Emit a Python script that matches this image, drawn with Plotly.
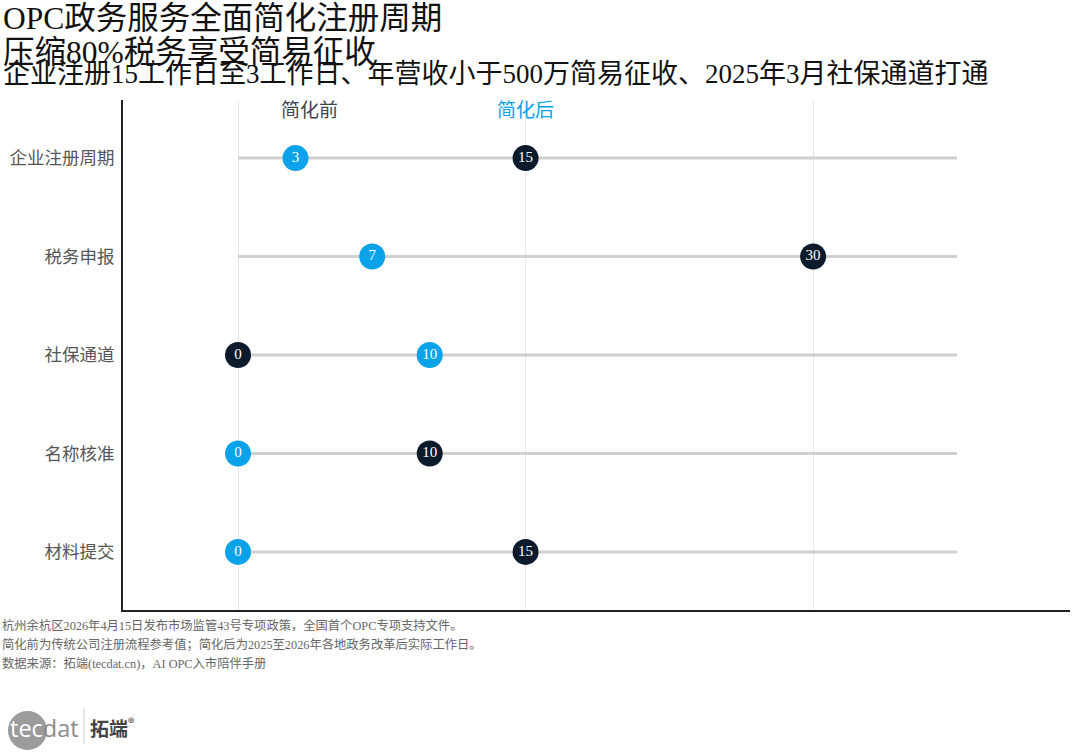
import plotly.graph_objects as go

# 数据
categories = ["企业注册周期", "税务申报", "社保通道", "名称核准", "材料提交"]
before_days = [15, 30, 0, 10, 15]   # 简化前
after_days = [3, 7, 10, 0, 0]       # 简化后
track_end = 37.5
grid_ticks = [0, 15, 30]

title_lines = ["OPC政务服务全面简化注册周期", "压缩80%税务享受简易征收"]
subtitle = "企业注册15工作日至3工作日、年营收小于500万简易征收、2025年3月社保通道打通"
notes = [
    "杭州余杭区2026年4月15日发布市场监管43号专项政策，全国首个OPC专项支持文件。",
    "简化前为传统公司注册流程参考值；简化后为2025至2026年各地政务改革后实际工作日。",
    "数据来源：拓端(tecdat.cn)，AI OPC入市陪伴手册",
]

DARK = "#0b1b2b"
BLUE = "#0aa2e8"
SERIF = "Liberation Serif, Noto Sans CJK SC, serif"
SANS = "Noto Sans CJK SC, sans-serif"

W, H = 1080, 756
ML, MR, MT, MB = 123, 10, 100, 146
PW, PH = W - ML - MR, H - MT - MB


def px_x(p):
    return (p - ML) / PW


def px_y(p):
    return (H - MB - p) / PH


fig = go.Figure()

# 灰色轨道线
tx, ty = [], []
for c in categories:
    tx += [0, track_end, None]
    ty += [c, c, None]
fig.add_trace(go.Scatter(x=tx, y=ty, mode="lines",
                         line=dict(color="#d0d0d0", width=3),
                         hoverinfo="skip", showlegend=False))

fig.add_trace(go.Scatter(
    x=before_days, y=categories, mode="markers+text", name="简化前",
    text=[str(v) for v in before_days], textposition="middle center",
    textfont=dict(color="white", size=15, family=SERIF),
    marker=dict(size=26, color=DARK), showlegend=False))

fig.add_trace(go.Scatter(
    x=after_days, y=categories, mode="markers+text", name="简化后",
    text=[str(v) for v in after_days], textposition="middle center",
    textfont=dict(color="white", size=15, family=SERIF),
    marker=dict(size=26, color=BLUE), showlegend=False))

annotations = []
# 标题
annotations.append(dict(text=title_lines[0], x=px_x(1), y=px_y(-1), xref="paper", yref="paper",
                        xanchor="left", yanchor="top", showarrow=False,
                        font=dict(size=31.5, color="#111", family=SERIF)))
annotations.append(dict(text=title_lines[1], x=px_x(1), y=px_y(33), xref="paper", yref="paper",
                        xanchor="left", yanchor="top", showarrow=False,
                        font=dict(size=31.5, color="#111", family=SERIF)))
annotations.append(dict(text=subtitle, x=px_x(1), y=px_y(57), xref="paper", yref="paper",
                        xanchor="left", yanchor="top", showarrow=False,
                        font=dict(size=27, color="#111", family=SERIF)))
# 图例文字
annotations.append(dict(text="简化前", x=3.75, y=px_y(108), xref="x", yref="paper",
                        xanchor="center", yanchor="middle", showarrow=False,
                        font=dict(size=19, color="#3a4750", family=SANS)))
annotations.append(dict(text="简化后", x=15, y=px_y(108), xref="x", yref="paper",
                        xanchor="center", yanchor="middle", showarrow=False,
                        font=dict(size=19, color=BLUE, family=SANS)))
# 注释
for i, n in enumerate(notes):
    annotations.append(dict(text=n, x=px_x(0), y=px_y(625 + 19 * i), xref="paper", yref="paper",
                            xanchor="left", yanchor="middle", showarrow=False,
                            font=dict(size=12.3, color="#666", family=SERIF)))
# logo
annotations.append(dict(text="<span style='color:white'>tec</span><span style='color:#8c8c8c'>dat</span>",
                        x=px_x(8), y=px_y(728), xref="paper", yref="paper",
                        xanchor="left", yanchor="middle", showarrow=False,
                        font=dict(size=23.5, color="#8c8c8c", family="Open Sans, sans-serif")))
annotations.append(dict(text="<b>拓端</b><sup>®</sup>", x=px_x(88), y=px_y(727), xref="paper", yref="paper",
                        xanchor="left", yanchor="middle", showarrow=False,
                        font=dict(size=19, color="#444", family=SANS)))

shapes = [
    dict(type="circle", xref="paper", yref="paper", layer="below",
         x0=px_x(8), x1=px_x(47), y0=px_y(750), y1=px_y(711),
         fillcolor="#9b9b9b", line=dict(width=0)),
    dict(type="line", xref="paper", yref="paper",
         x0=px_x(84), x1=px_x(84), y0=px_y(708), y1=px_y(744),
         line=dict(color="#cfcfcf", width=1)),
]

fig.update_layout(
    width=W, height=H,
    margin=dict(l=ML, r=MR, t=MT, b=MB),
    plot_bgcolor="white", paper_bgcolor="white",
    annotations=annotations, shapes=shapes,
    xaxis=dict(range=[-6, 43.4], tickvals=grid_ticks, showticklabels=False,
               showgrid=True, gridcolor="#e8e8e8", gridwidth=1, zeroline=False,
               showline=True, linecolor="#222", linewidth=2, ticks="", automargin=False),
    yaxis=dict(type="category", categoryarray=categories, range=[4.59, -0.59],
               showgrid=False, zeroline=False, showline=True, linecolor="#222",
               linewidth=2, ticks="", ticklabelstandoff=3, automargin=False,
               tickfont=dict(size=17.5, color="#555", family=SANS)),
)

# 去掉页面 body 默认的 8px 边距
fig.write_html("out.html", config={"displayModeBar": False},
               post_script="document.body.style.margin='0';")
